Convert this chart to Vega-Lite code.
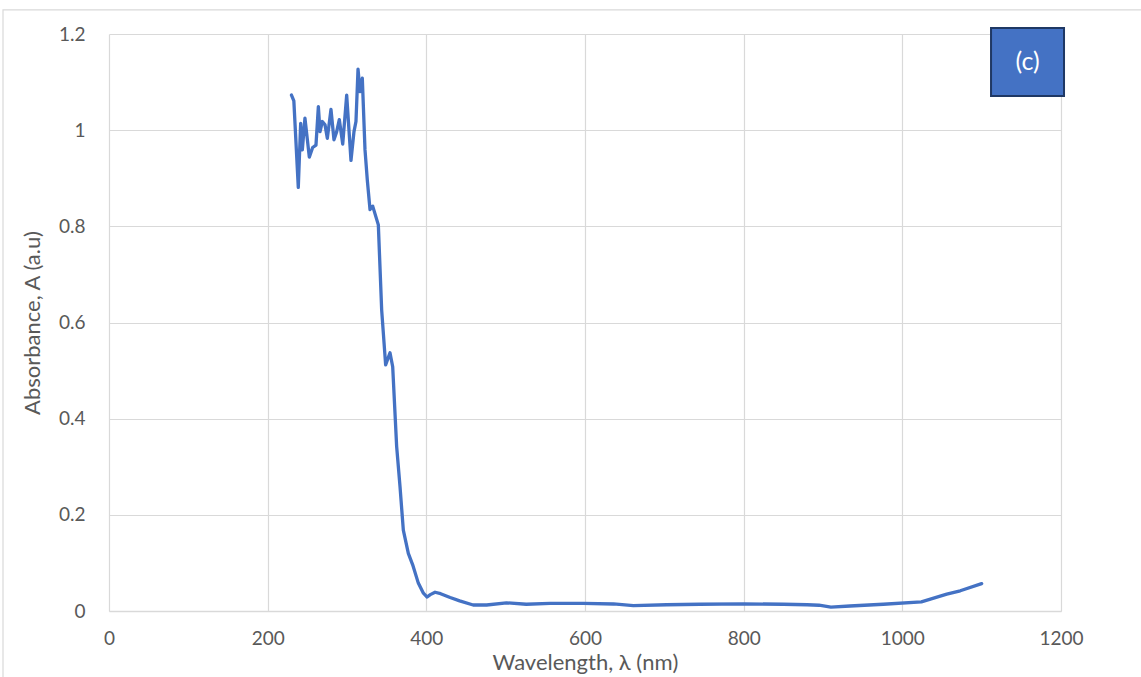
{
  "$schema": "https://vega.github.io/schema/vega-lite/v6.json",
  "width": 952,
  "height": 577,
  "autosize": {"type": "none"},
  "padding": {"left": 109, "top": 34, "right": 80, "bottom": 66},
  "background": "white",
  "config": {
    "view": {"stroke": null},
    "font": "Lato",
    "axis": {
      "labelFont": "Lato",
      "titleFont": "Lato",
      "labelColor": "#595959",
      "titleColor": "#595959",
      "labelFontSize": 19,
      "titleFontSize": 22,
      "titleFontWeight": "normal",
      "gridColor": "#d9d9d9",
      "gridWidth": 1.2,
      "ticks": false,
      "labelFlush": false
    }
  },
  "layer": [
    {
      "data": {"values": [{"wavelength": -133.6, "wavelength2": 1320, "absorbance": 1.25, "absorbance2": -0.3}]},
      "mark": {"type": "rect", "fill": null, "stroke": "#d9d9d9", "strokeWidth": 1.2, "clip": false},
      "encoding": {
        "x": {"field": "wavelength", "type": "quantitative"},
        "x2": {"field": "wavelength2"},
        "y": {"field": "absorbance", "type": "quantitative"},
        "y2": {"field": "absorbance2"}
      }
    },
    {
      "data": {"values": [
        {"wavelength": 230, "absorbance": 1.073},
        {"wavelength": 233, "absorbance": 1.061},
        {"wavelength": 238.6, "absorbance": 0.881},
        {"wavelength": 241.6, "absorbance": 1.014},
        {"wavelength": 243.7, "absorbance": 0.959},
        {"wavelength": 247, "absorbance": 1.025},
        {"wavelength": 252.5, "absorbance": 0.944},
        {"wavelength": 256.7, "absorbance": 0.964},
        {"wavelength": 260.9, "absorbance": 0.969},
        {"wavelength": 263.9, "absorbance": 1.049},
        {"wavelength": 266, "absorbance": 0.997},
        {"wavelength": 268.9, "absorbance": 1.018},
        {"wavelength": 272.3, "absorbance": 1.011},
        {"wavelength": 275.2, "absorbance": 0.983},
        {"wavelength": 279.8, "absorbance": 1.043},
        {"wavelength": 283.6, "absorbance": 0.98},
        {"wavelength": 287, "absorbance": 0.997},
        {"wavelength": 290.3, "absorbance": 1.022},
        {"wavelength": 294.6, "absorbance": 0.971},
        {"wavelength": 299.6, "absorbance": 1.073},
        {"wavelength": 305, "absorbance": 0.937},
        {"wavelength": 308.8, "absorbance": 0.997},
        {"wavelength": 311.3, "absorbance": 1.018},
        {"wavelength": 313.9, "absorbance": 1.127},
        {"wavelength": 316.4, "absorbance": 1.08},
        {"wavelength": 319.3, "absorbance": 1.108},
        {"wavelength": 322.7, "absorbance": 0.959},
        {"wavelength": 325.6, "absorbance": 0.896},
        {"wavelength": 329, "absorbance": 0.835},
        {"wavelength": 332.4, "absorbance": 0.842},
        {"wavelength": 339.5, "absorbance": 0.803},
        {"wavelength": 343.7, "absorbance": 0.626},
        {"wavelength": 348.7, "absorbance": 0.512},
        {"wavelength": 354.2, "absorbance": 0.537},
        {"wavelength": 357.6, "absorbance": 0.508},
        {"wavelength": 362.6, "absorbance": 0.342},
        {"wavelength": 366.8, "absorbance": 0.259},
        {"wavelength": 371, "absorbance": 0.168},
        {"wavelength": 377.3, "absorbance": 0.12},
        {"wavelength": 382.8, "absorbance": 0.096},
        {"wavelength": 389.9, "absorbance": 0.058},
        {"wavelength": 396.3, "absorbance": 0.037},
        {"wavelength": 401, "absorbance": 0.029},
        {"wavelength": 405, "absorbance": 0.034},
        {"wavelength": 411, "absorbance": 0.039},
        {"wavelength": 418, "absorbance": 0.036},
        {"wavelength": 430, "absorbance": 0.028},
        {"wavelength": 442, "absorbance": 0.021},
        {"wavelength": 459, "absorbance": 0.0125},
        {"wavelength": 476, "absorbance": 0.0125},
        {"wavelength": 501, "absorbance": 0.017},
        {"wavelength": 526, "absorbance": 0.014},
        {"wavelength": 556, "absorbance": 0.016},
        {"wavelength": 598, "absorbance": 0.016},
        {"wavelength": 636, "absorbance": 0.0146},
        {"wavelength": 661, "absorbance": 0.011},
        {"wavelength": 703, "absorbance": 0.013},
        {"wavelength": 745, "absorbance": 0.014},
        {"wavelength": 800, "absorbance": 0.015},
        {"wavelength": 850, "absorbance": 0.014},
        {"wavelength": 880, "absorbance": 0.013},
        {"wavelength": 895, "absorbance": 0.012},
        {"wavelength": 910, "absorbance": 0.008},
        {"wavelength": 934, "absorbance": 0.0104},
        {"wavelength": 976, "absorbance": 0.014},
        {"wavelength": 1024, "absorbance": 0.019},
        {"wavelength": 1056, "absorbance": 0.035},
        {"wavelength": 1073, "absorbance": 0.042},
        {"wavelength": 1100, "absorbance": 0.057}
      ]},
      "mark": {"type": "line", "color": "#4472C4", "strokeWidth": 3.3, "strokeCap": "round", "strokeJoin": "round"},
      "encoding": {
        "x": {
          "field": "wavelength", "type": "quantitative",
          "scale": {"domain": [0, 1200], "nice": false, "zero": false},
          "axis": {
            "title": "Wavelength, λ (nm)",
            "values": [0, 200, 400, 600, 800, 1000, 1200],
            "grid": true,
            "domain": true,
            "domainColor": "#d9d9d9",
            "domainWidth": 1.5,
            "labelPadding": 18,
            "titlePadding": 4,
            "format": "d"
          }
        },
        "y": {
          "field": "absorbance", "type": "quantitative",
          "scale": {"domain": [0, 1.2], "nice": false, "zero": false},
          "axis": {
            "title": "Absorbance, A (a.u)",
            "values": [0, 0.2, 0.4, 0.6, 0.8, 1, 1.2],
            "grid": true,
            "domain": false,
            "labelPadding": 24,
            "titlePadding": 14,
            "format": "~g"
          }
        }
      }
    },
    {
      "data": {"values": [{"wavelength": 1111.8, "wavelength2": 1203.8, "absorbance": 1.2126, "absorbance2": 1.071}]},
      "mark": {"type": "rect", "fill": "#4472C4", "stroke": "#1F3864", "strokeWidth": 2, "clip": false},
      "encoding": {
        "x": {"field": "wavelength", "type": "quantitative"},
        "x2": {"field": "wavelength2"},
        "y": {"field": "absorbance", "type": "quantitative"},
        "y2": {"field": "absorbance2"}
      }
    },
    {
      "data": {"values": [{"wavelength": 1157.8, "absorbance": 1.142, "label": "(c)"}]},
      "mark": {"type": "text", "color": "white", "fontSize": 25, "font": "Lato", "align": "center", "baseline": "middle", "clip": false},
      "encoding": {
        "x": {"field": "wavelength", "type": "quantitative"},
        "y": {"field": "absorbance", "type": "quantitative"},
        "text": {"field": "label"},
        "size": {"value": 25}
      }
    }
  ]
}
